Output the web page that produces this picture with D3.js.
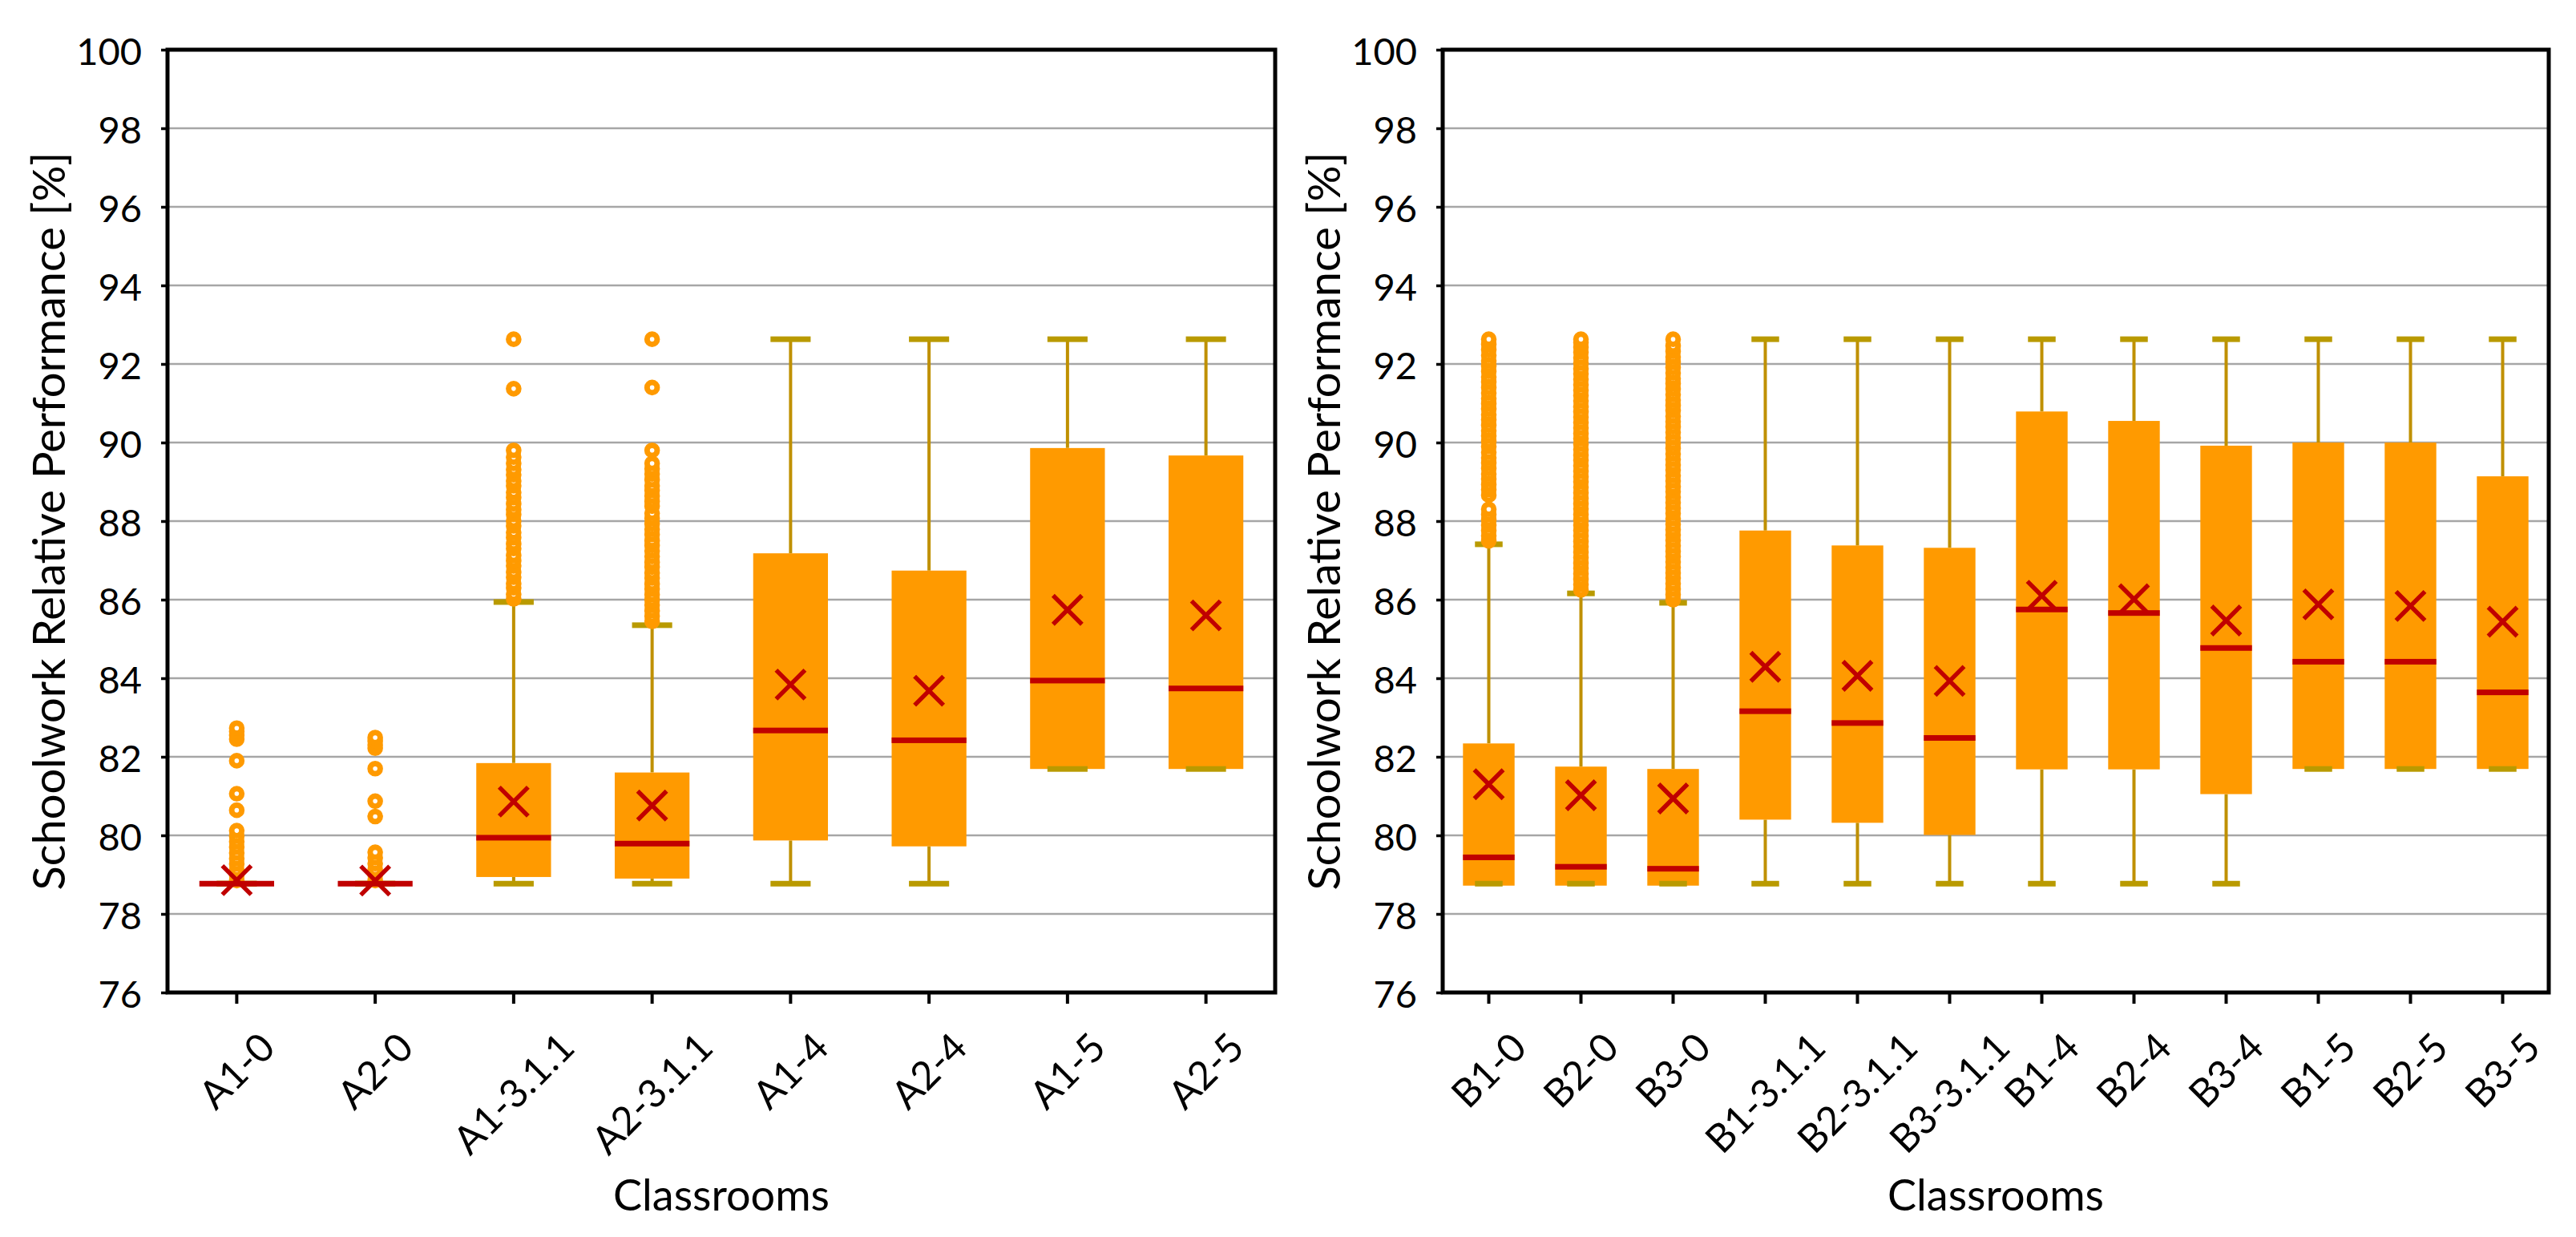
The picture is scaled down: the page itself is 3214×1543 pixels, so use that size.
<!DOCTYPE html>
<html><head><meta charset="utf-8">
<script src="https://cdn.jsdelivr.net/npm/d3@7"></script>
<style>html,body{margin:0;padding:0;background:#fff;} svg{display:block;}</style>
</head><body>
<svg id="chart" width="3214" height="1543"></svg>
<script>
// ---------- DATA ----------
const yTickValues = [76, 78, 80, 82, 84, 86, 88, 90, 92, 94, 96, 98, 100];
const yTitle = "Schoolwork Relative Performance [%]";
const xTitle = "Classrooms";

const categoriesA = ["A1-0", "A2-0", "A1-3.1.1", "A2-3.1.1", "A1-4", "A2-4", "A1-5", "A2-5"];
const minA    = [78.77, 78.77, 78.77, 78.77, 78.77, 78.77, 81.69, 81.69];
const q1A     = [78.77, 78.77, 78.94, 78.90, 79.87, 79.72, 81.69, 81.69];
const medianA = [78.77, 78.77, 79.94, 79.79, 82.67, 82.42, 83.94, 83.74];
const q3A     = [78.77, 78.77, 81.84, 81.60, 87.18, 86.74, 89.86, 89.67];
const maxA    = [78.77, 78.77, 85.94, 85.35, 92.63, 92.63, 92.63, 92.63];
const meanA   = [78.86, 78.85, 80.86, 80.76, 83.84, 83.68, 85.74, 85.60];
const outliersA = [
  [78.85, 78.98, 79.12, 79.27, 79.41, 79.55, 79.7, 79.84, 79.98, 80.12, 80.64, 81.06, 81.9, 82.45, 82.55, 82.65, 82.73],
  [78.85, 78.99, 79.13, 79.28, 79.43, 79.57, 80.48, 80.87, 81.7, 82.22, 82.3, 82.4, 82.49],
  [86.02, 86.14, 86.3, 86.41, 86.57, 86.7, 86.86, 86.99, 87.13, 87.3, 87.42, 87.58, 87.71, 87.88, 88.0, 88.17, 88.29, 88.44, 88.6, 88.73, 88.9, 89.02, 89.18, 89.31, 89.47, 89.63, 89.8, 91.37, 92.63],
  [85.45, 85.58, 85.72, 85.86, 85.99, 86.13, 86.27, 86.4, 86.55, 86.68, 86.83, 86.95, 87.1, 87.24, 87.38, 87.5, 87.66, 87.79, 87.93, 88.07, 88.2, 88.38, 88.5, 88.64, 88.78, 88.9, 89.05, 89.2, 89.33, 89.47, 89.8, 91.4, 92.63],
  [], [], [], []
];

const categoriesB = ["B1-0", "B2-0", "B3-0", "B1-3.1.1", "B2-3.1.1", "B3-3.1.1", "B1-4", "B2-4", "B3-4", "B1-5", "B2-5", "B3-5"];
const minB    = [78.77, 78.77, 78.77, 78.77, 78.77, 78.77, 78.77, 78.77, 78.77, 81.69, 81.69, 81.69];
const q1B     = [78.72, 78.72, 78.72, 80.40, 80.32, 80.01, 81.68, 81.68, 81.05, 81.69, 81.69, 81.69];
const medianB = [79.44, 79.20, 79.15, 83.16, 82.86, 82.48, 85.75, 85.66, 84.77, 84.42, 84.42, 83.64];
const q3B     = [82.34, 81.75, 81.69, 87.76, 87.38, 87.32, 90.79, 90.55, 89.92, 90.00, 90.00, 89.14];
const maxB    = [87.41, 86.16, 85.92, 92.63, 92.63, 92.63, 92.63, 92.63, 92.63, 92.63, 92.63, 92.63];
const meanB   = [81.30, 81.02, 80.94, 84.29, 84.06, 83.93, 86.10, 86.01, 85.47, 85.88, 85.84, 85.44];
const outliersB = [
  [87.5, 87.63, 87.76, 87.9, 88.03, 88.17, 88.3, 88.66, 88.8, 88.93, 89.07, 89.2, 89.34, 89.48, 89.61, 89.75, 89.9, 90.03, 90.17, 90.3, 90.44, 90.58, 90.71, 90.85, 90.99, 91.12, 91.26, 91.4, 91.54, 91.67, 91.81, 91.95, 92.08, 92.22, 92.36, 92.5, 92.63],
  [86.25, 86.39, 86.52, 86.66, 86.8, 86.93, 87.07, 87.21, 87.35, 87.48, 87.62, 87.76, 87.9, 88.03, 88.17, 88.31, 88.44, 88.58, 88.72, 88.86, 89.0, 89.13, 89.27, 89.41, 89.55, 89.68, 89.82, 89.96, 90.1, 90.23, 90.37, 90.51, 90.65, 90.78, 90.92, 91.06, 91.2, 91.33, 91.47, 91.61, 91.75, 91.88, 92.02, 92.16, 92.3, 92.43, 92.55, 92.63],
  [86.0, 86.13, 86.27, 86.41, 86.55, 86.68, 86.82, 86.96, 87.1, 87.23, 87.37, 87.51, 87.65, 87.78, 87.92, 88.06, 88.2, 88.33, 88.47, 88.61, 88.75, 88.88, 89.02, 89.16, 89.3, 89.43, 89.57, 89.71, 89.85, 89.98, 90.12, 90.26, 90.4, 90.53, 90.67, 90.81, 90.95, 91.08, 91.22, 91.36, 91.5, 91.63, 91.77, 91.91, 92.05, 92.18, 92.32, 92.46, 92.63],
  [], [], [], [], [], [], [], [], []
];

// ---------- STYLE / LAYOUT ----------
const FONT = "Lato, 'Open Sans', sans-serif";
const C_BOX = "#FF9A00", C_WHISK = "#BF9000", C_CAP = "#B99A00", C_MED = "#C00000", C_GRID = "#A6A6A6";
const yTop = 62, yBot = 1238;
const XLAB_FS = 49, XLAB_TOP = 47;

const svg = d3.select("#chart");

const panels = [
  {cats: categoriesA, min: minA, q1: q1A, med: medianA, q3: q3A, max: maxA, mean: meanA, out: outliersA, x0: 209, x1: 1591, boxFrac: 0.54, capFrac: 0.29},
  {cats: categoriesB, min: minB, q1: q1B, med: medianB, q3: q3B, max: maxB, mean: meanB, out: outliersB, x0: 1800, x1: 3180, boxFrac: 0.56, capFrac: 0.30}
];

panels.forEach(p => {
  const g = svg.append("g");
  const x = d3.scaleBand().domain(p.cats).range([p.x0, p.x1]).padding(0);
  const y = d3.scaleLinear().domain([d3.min(yTickValues), d3.max(yTickValues)]).range([yBot, yTop]);

  // gridlines
  g.append("g").selectAll("line")
    .data(yTickValues.filter(v => v > d3.min(yTickValues) && v < d3.max(yTickValues)))
    .join("line")
    .attr("x1", p.x0).attr("x2", p.x1)
    .attr("y1", d => y(d)).attr("y2", d => y(d))
    .attr("stroke", C_GRID).attr("stroke-width", 2.5);

  // y axis
  const ya = g.append("g").attr("transform", `translate(${p.x0},0)`)
    .call(d3.axisLeft(y).tickValues(yTickValues).tickSize(8).tickPadding(24).tickFormat(d3.format("d")));
  ya.select(".domain").remove();
  ya.selectAll("line").attr("stroke", "#000").attr("stroke-width", 3.5);
  ya.selectAll("text").attr("font-family", FONT).attr("font-size", 47).attr("fill", "#000").attr("dy", "0.4em");

  // x axis
  const xa = g.append("g").attr("transform", `translate(0,${yBot})`)
    .call(d3.axisBottom(x).tickSize(14).tickSizeOuter(0));
  xa.select(".domain").remove();
  xa.selectAll("line").attr("stroke", "#000").attr("stroke-width", 4);
  xa.selectAll("text")
    .attr("font-family", FONT).attr("font-size", XLAB_FS).attr("fill", "#000")
    .attr("x", null).attr("y", null).attr("dy", "0.35em")
    .attr("text-anchor", "middle")
    .each(function() {
      const L = this.getComputedTextLength();
      const h = XLAB_FS * 0.72;
      const half = (L + h) * Math.SQRT1_2 / 2;
      d3.select(this).attr("transform", `translate(0,${XLAB_TOP + half}) rotate(-45)`);
    });

  // frame
  g.append("rect").attr("x", p.x0).attr("y", yTop)
    .attr("width", p.x1 - p.x0).attr("height", yBot - yTop)
    .attr("fill", "none").attr("stroke", "#000").attr("stroke-width", 5);

  // boxes
  const bw = x.bandwidth();
  const boxW = bw * p.boxFrac, capW = bw * p.capFrac;
  const data = p.cats.map((c, i) => ({c, min: p.min[i], q1: p.q1[i], med: p.med[i], q3: p.q3[i], max: p.max[i], mean: p.mean[i], out: p.out[i]}));
  const bg = g.selectAll(".bx").data(data).join("g").attr("class", "bx")
    .attr("transform", d => `translate(${x(d.c) + bw / 2},0)`);

  bg.append("line").attr("x1", 0).attr("x2", 0)
    .attr("y1", d => y(d.q3)).attr("y2", d => y(d.max))
    .attr("stroke", C_WHISK).attr("stroke-width", 4);
  bg.append("line").attr("x1", 0).attr("x2", 0)
    .attr("y1", d => y(d.q1)).attr("y2", d => y(d.min))
    .attr("stroke", C_WHISK).attr("stroke-width", 4);
  bg.append("rect").attr("x", -boxW / 2).attr("width", boxW)
    .attr("y", d => y(d.q3)).attr("height", d => Math.max(0, y(d.q1) - y(d.q3)))
    .attr("fill", C_BOX);
  bg.append("rect").attr("x", -capW / 2).attr("width", capW)
    .attr("y", d => y(d.max) - 3.5).attr("height", 7).attr("fill", C_CAP);
  bg.append("rect").attr("x", -capW / 2).attr("width", capW)
    .attr("y", d => y(d.min) - 3.5).attr("height", 7).attr("fill", C_CAP);

  bg.each(function(d) {
    d3.select(this).selectAll("circle").data(d.out).join("circle")
      .attr("cx", 0).attr("cy", v => y(v)).attr("r", 6.3)
      .attr("fill", "#fff").attr("stroke", C_BOX).attr("stroke-width", 7);
  });

  bg.append("rect").attr("x", -boxW / 2).attr("width", boxW)
    .attr("y", d => y(d.med) - 3.5).attr("height", 7).attr("fill", C_MED);

  const s = 18;
  bg.append("path")
    .attr("d", d => { const cy = y(d.mean); return `M${-s},${cy - s}L${s},${cy + s}M${-s},${cy + s}L${s},${cy - s}`; })
    .attr("stroke", C_MED).attr("stroke-width", 5.5).attr("fill", "none");

  // axis titles
  g.append("text")
    .attr("transform", `translate(${p.x0 - 148},${(yTop + yBot) / 2}) rotate(-90)`)
    .attr("text-anchor", "middle").attr("dy", "0.35em")
    .attr("font-family", FONT).attr("font-size", 56).attr("fill", "#000")
    .text(yTitle);
  g.append("text")
    .attr("x", (p.x0 + p.x1) / 2).attr("y", 1510)
    .attr("text-anchor", "middle")
    .attr("font-family", FONT).attr("font-size", 54).attr("fill", "#000")
    .text(xTitle);
});
</script>
</body></html>
